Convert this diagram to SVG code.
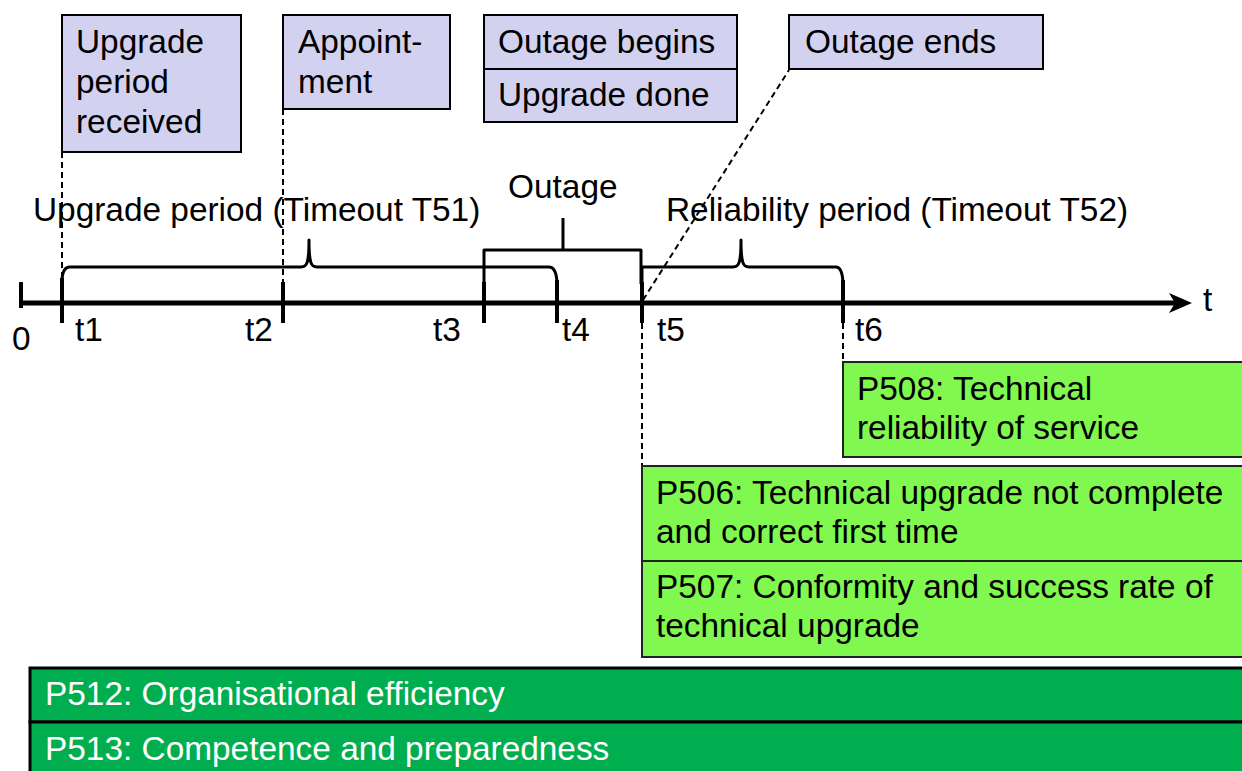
<svg xmlns="http://www.w3.org/2000/svg" width="1242" height="771" viewBox="0 0 1242 771">
  <style>
    text { font-family: "Liberation Sans", Arial, sans-serif; font-size: 33.4px; fill: #000; }
    .event { fill: #D2D2F0; stroke: #000; stroke-width: 2; }
    .kpi { fill: #80F850; stroke: #222; stroke-width: 2; }
    .kpi-org { fill: #00AE50; stroke: #000; stroke-width: 3; }
    .white { fill: #fff; }
    .axis { stroke: #000; stroke-width: 5; fill: none; }
    .tick { stroke: #000; stroke-width: 4; fill: none; }
    .brace { stroke: #000; stroke-width: 3; fill: none; stroke-linejoin: round; }
    .guide { stroke: #000; stroke-width: 2; stroke-dasharray: 6 4; fill: none; }
  </style>

  <!-- connectors: dashed guides, time axis, ticks and braces -->
  <g id="connectors">
    <line class="guide" x1="62" y1="152" x2="62" y2="278"/>
    <line class="guide" x1="283" y1="109" x2="283" y2="282"/>
    <line class="guide" x1="642" y1="323" x2="642" y2="466"/>
    <line class="guide" x1="843" y1="323" x2="843" y2="362"/>
    <line class="guide" x1="643" y1="300" x2="789" y2="70"/>

    <line class="axis" x1="21" y1="303" x2="1176" y2="303"/>
    <polygon points="1192,303 1169,293 1175,303 1169,313" fill="#000"/>

    <line class="tick" x1="21" y1="282" x2="21" y2="308"/>
    <line class="tick" x1="62" y1="278" x2="62" y2="323"/>
    <line class="tick" x1="283" y1="282" x2="283" y2="323"/>
    <line class="tick" x1="484" y1="282" x2="484" y2="323"/>
    <line class="tick" x1="557" y1="280" x2="557" y2="323"/>
    <line class="tick" x1="642" y1="282" x2="642" y2="323"/>
    <line class="tick" x1="843" y1="280" x2="843" y2="323"/>

    <!-- upgrade period brace t1..t4 -->
    <path class="brace" d="M62,282 Q62,267 70,267 L301,267 C307,267 309,263 309,240 C309,263 311,267 317,267 L549,267 Q556,267 557,282"/>
    <!-- reliability period brace t5..t6 -->
    <path class="brace" d="M642,282 L642,267 L733,267 C739,267 741,263 741,240 C741,263 743,267 749,267 L836,267 Q842,267 843,282"/>
    <!-- outage bracket t3..t5 -->
    <path class="brace" d="M484,284 L484,250 L641,250 L641,284 M563,250 L563,218" stroke-width="3.5"/>
  </g>

  <g id="axis-labels">
    <text x="12" y="350">0</text>
    <text x="75" y="341">t1</text>
    <text x="245" y="341">t2</text>
    <text x="433" y="341">t3</text>
    <text x="562" y="341">t4</text>
    <text x="657" y="341">t5</text>
    <text x="855" y="341">t6</text>
    <text x="1203" y="311">t</text>
  </g>

  <g id="period-labels">
    <text x="33" y="221">Upgrade period (Timeout T51)</text>
    <text x="508" y="198">Outage</text>
    <text x="666" y="221">Reliability period (Timeout T52)</text>
  </g>

  <g id="event-upgrade-received">
    <rect class="event" x="62" y="15" width="179" height="137"/>
    <text x="76" y="53">Upgrade</text>
    <text x="76" y="93">period</text>
    <text x="76" y="133">received</text>
  </g>

  <g id="event-appointment">
    <rect class="event" x="283" y="15" width="167" height="94"/>
    <text x="298" y="53">Appoint-</text>
    <text x="298" y="93">ment</text>
  </g>

  <g id="event-outage-begins">
    <rect class="event" x="484" y="15" width="253" height="54"/>
    <text x="498" y="53">Outage begins</text>
  </g>

  <g id="event-upgrade-done">
    <rect class="event" x="484" y="69" width="253" height="53"/>
    <text x="498" y="106">Upgrade done</text>
  </g>

  <g id="event-outage-ends">
    <rect class="event" x="789" y="15" width="254" height="54"/>
    <text x="805" y="53">Outage ends</text>
  </g>

  <g id="kpi-p508">
    <rect class="kpi" x="843" y="362" width="410" height="95"/>
    <text x="857" y="400">P508: Technical</text>
    <text x="857" y="439">reliability of service</text>
  </g>

  <g id="kpi-p506">
    <rect class="kpi" x="642" y="466" width="610" height="95"/>
    <text x="656" y="504">P506: Technical upgrade not complete</text>
    <text x="656" y="543">and correct first time</text>
  </g>

  <g id="kpi-p507">
    <rect class="kpi" x="642" y="561" width="610" height="96"/>
    <text x="656" y="598">P507: Conformity and success rate of</text>
    <text x="656" y="637">technical upgrade</text>
  </g>

  <g id="kpi-p512">
    <rect class="kpi-org" x="30" y="668" width="1222" height="54"/>
    <text class="white" x="45" y="705">P512: Organisational efficiency</text>
  </g>

  <g id="kpi-p513">
    <rect class="kpi-org" x="30" y="722" width="1222" height="60"/>
    <text class="white" x="45" y="760">P513: Competence and preparedness</text>
  </g>
</svg>
